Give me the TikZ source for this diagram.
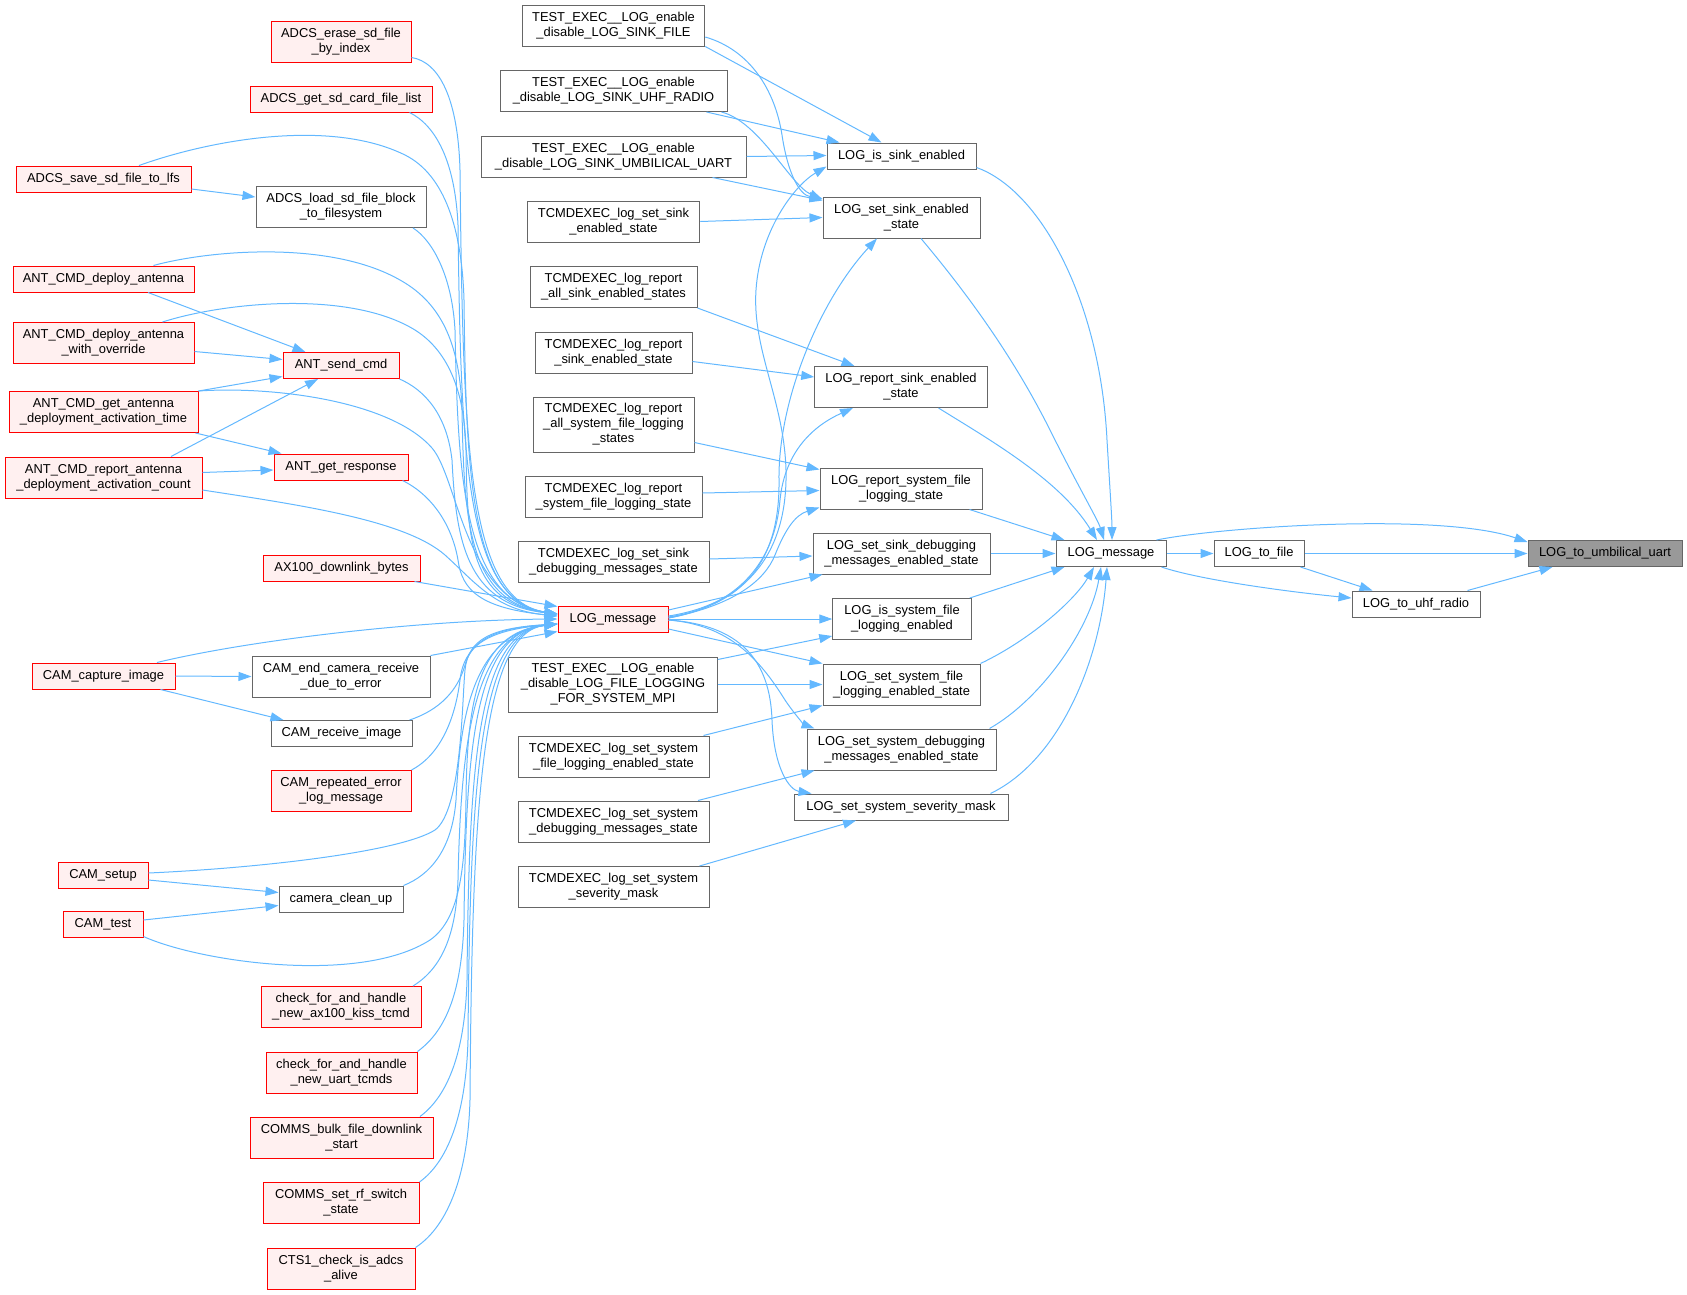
\documentclass[tikz,border=0pt]{standalone}
\usepackage{fontspec}
\setmainfont{Liberation Sans}
\usetikzlibrary{arrows.meta}
\definecolor{cedge}{HTML}{63B8FF}
\definecolor{cgray}{HTML}{666666}
\definecolor{cpink}{HTML}{FFF0F0}
\definecolor{ctarget}{HTML}{999999}
\newcommand\nfont{\fontsize{12.9}{15}\selectfont}
\newcommand\mknode[6]{\node[#1,minimum width=#2pt,minimum height=#3pt] (#4) at (#5) {#6};}
\tikzset{
  basebox/.style={draw, rectangle, inner sep=0pt, align=center, font=\nfont, line width=1pt},
  nb/.style={basebox, draw=cgray, fill=white},
  rb/.style={basebox, draw=red, fill=cpink},
  tb/.style={basebox, draw=cgray, fill=ctarget},
  edge/.style={draw=cedge, line width=1pt, -{Triangle[length=13pt,width=9pt]}},
}
\begin{document}
\begin{tikzpicture}[x=1pt,y=-1pt]
\useasboundingbox (0,0) rectangle (1687,1294);
% column 0
\mknode{rb}{175}{26}{adcsSave}{103.5,179}{ADCS\_save\_sd\_file\_to\_lfs}
\mknode{rb}{181}{26}{antDeploy}{103.5,279}{ANT\_CMD\_deploy\_antenna}
\mknode{rb}{181}{41}{antOverride}{103.5,343}{ANT\_CMD\_deploy\_antenna\\\_with\_override}
\mknode{rb}{189}{41}{antTime}{103.5,412}{ANT\_CMD\_get\_antenna\\\_deployment\_activation\_time}
\mknode{rb}{197}{41}{antReport}{103.5,477.5}{ANT\_CMD\_report\_antenna\\\_deployment\_activation\_count}
\mknode{rb}{143}{26}{camCapture}{103.5,676}{CAM\_capture\_image}
\mknode{rb}{90}{26}{camSetup}{103,875}{CAM\_setup}
\mknode{rb}{80}{26}{camTest}{103,924}{CAM\_test}
% column 1
\mknode{rb}{140}{41}{adcsErase}{341,41.5}{ADCS\_erase\_sd\_file\\\_by\_index}
\mknode{rb}{182}{26}{adcsGet}{341,99}{ADCS\_get\_sd\_card\_file\_list}
\mknode{nb}{170}{41}{adcsLoad}{341,207}{ADCS\_load\_sd\_file\_block\\\_to\_filesystem}
\mknode{rb}{116}{26}{antSend}{341,365.5}{ANT\_send\_cmd}
\mknode{rb}{134}{26}{antGetResp}{341,467}{ANT\_get\_response}
\mknode{rb}{157}{26}{ax100}{341.5,568}{AX100\_downlink\_bytes}
\mknode{nb}{178}{41}{camEnd}{341,676.5}{CAM\_end\_camera\_receive\\\_due\_to\_error}
\mknode{nb}{141}{26}{camRecv}{341.5,733.5}{CAM\_receive\_image}
\mknode{rb}{140}{41}{camRep}{341,791}{CAM\_repeated\_error\\\_log\_message}
\mknode{nb}{124}{26}{camClean}{341,899}{camera\_clean\_up}
\mknode{rb}{160}{41}{checkAx}{341,1007}{check\_for\_and\_handle\\\_new\_ax100\_kiss\_tcmd}
\mknode{rb}{151}{41}{checkUart}{341.5,1072.5}{check\_for\_and\_handle\\\_new\_uart\_tcmds}
\mknode{rb}{183}{41}{commsBulk}{341.5,1137.5}{COMMS\_bulk\_file\_downlink\\\_start}
\mknode{rb}{156}{41}{commsRf}{341,1203}{COMMS\_set\_rf\_switch\\\_state}
\mknode{rb}{148}{41}{cts1}{341,1268.5}{CTS1\_check\_is\_adcs\\\_alive}
% column 2
\mknode{nb}{182.5}{41}{tSinkFile}{613.5,25.5}{TEST\_EXEC\_\_LOG\_enable\\\_disable\_LOG\_SINK\_FILE}
\mknode{nb}{227}{41}{tUhf}{613.5,91}{TEST\_EXEC\_\_LOG\_enable\\\_disable\_LOG\_SINK\_UHF\_RADIO}
\mknode{nb}{265}{41}{tUmb}{613.5,156.5}{TEST\_EXEC\_\_LOG\_enable\\\_disable\_LOG\_SINK\_UMBILICAL\_UART}
\mknode{nb}{172.5}{41}{cSetSink}{613.5,221.5}{TCMDEXEC\_log\_set\_sink\\\_enabled\_state}
\mknode{nb}{167}{41}{cRepAllSink}{613.5,287}{TCMDEXEC\_log\_report\\\_all\_sink\_enabled\_states}
\mknode{nb}{157}{41}{cRepSink}{613.5,352.5}{TCMDEXEC\_log\_report\\\_sink\_enabled\_state}
\mknode{nb}{161}{55}{cRepAllSys}{613.5,424.5}{TCMDEXEC\_log\_report\\\_all\_system\_file\_logging\\\_states}
\mknode{nb}{177}{41}{cRepSys}{613.5,496.5}{TCMDEXEC\_log\_report\\\_system\_file\_logging\_state}
\mknode{nb}{191}{41}{cSetSinkDbg}{613.5,561.5}{TCMDEXEC\_log\_set\_sink\\\_debugging\_messages\_state}
\mknode{rb}{110}{26}{logMsgL}{613,619}{LOG\_message}
\mknode{nb}{208.5}{55}{tFileLog}{613,684.5}{TEST\_EXEC\_\_LOG\_enable\\\_disable\_LOG\_FILE\_LOGGING\\\_FOR\_SYSTEM\_MPI}
\mknode{nb}{191}{41}{cSetSysFile}{613.5,756.5}{TCMDEXEC\_log\_set\_system\\\_file\_logging\_enabled\_state}
\mknode{nb}{191}{41}{cSetSysDbg}{613.5,821.5}{TCMDEXEC\_log\_set\_system\\\_debugging\_messages\_state}
\mknode{nb}{191}{41}{cSetSev}{613.5,887}{TCMDEXEC\_log\_set\_system\\\_severity\_mask}
% column 3
\mknode{nb}{149}{26}{isSink}{901.5,156}{LOG\_is\_sink\_enabled}
\mknode{nb}{157}{41}{setSink}{901.5,217.5}{LOG\_set\_sink\_enabled\\\_state}
\mknode{nb}{172.5}{41}{repSink}{901,387}{LOG\_report\_sink\_enabled\\\_state}
\mknode{nb}{162}{41}{repSys}{901,488.5}{LOG\_report\_system\_file\\\_logging\_state}
\mknode{nb}{177}{41}{setSinkDbg}{901.5,553.5}{LOG\_set\_sink\_debugging\\\_messages\_enabled\_state}
\mknode{nb}{138.5}{41}{isSys}{902,619}{LOG\_is\_system\_file\\\_logging\_enabled}
\mknode{nb}{157}{41}{setSysFile}{901.5,684.5}{LOG\_set\_system\_file\\\_logging\_enabled\_state}
\mknode{nb}{189}{41}{setSysDbg}{901.5,749.5}{LOG\_set\_system\_debugging\\\_messages\_enabled\_state}
\mknode{nb}{214}{26}{sevMask}{901,807}{LOG\_set\_system\_severity\_mask}
% right part
\mknode{nb}{110}{26}{logMsgR}{1111,553.5}{LOG\_message}
\mknode{nb}{90}{26}{toFile}{1259,553.5}{LOG\_to\_file}
\mknode{nb}{128}{26}{toUhf}{1416,604}{LOG\_to\_uhf\_radio}
\mknode{tb}{154}{26}{target}{1605,553.5}{LOG\_to\_umbilical\_uart}

% ---- left edges into logMsgL
\draw[edge] ([yshift=5pt]adcsErase.south east) .. controls (440,62) and (458,100) .. (460,170) .. controls (463,450) and (468,600) .. ([yshift=5pt]logMsgL.west);
\draw[edge] ([xshift=-23pt]adcsGet.south east) .. controls (435,125) and (455,160) .. (458,225) .. controls (461,460) and (466,600) .. ([yshift=5pt]logMsgL.west);
\draw[edge] ([xshift=35.5pt]adcsSave.north) .. controls (210,140) and (330,118) .. (405,155) .. controls (445,175) and (462,230) .. (464,300) .. controls (466,470) and (470,602) .. ([yshift=5pt]logMsgL.west);
\draw[edge] ([xshift=-13.5pt]adcsLoad.south east) .. controls (432,240) and (452,275) .. (455,330) .. controls (458,480) and (464,600) .. ([yshift=5pt]logMsgL.west);
\draw[edge] ([xshift=50pt]antDeploy.north) .. controls (210,250) and (330,240) .. (400,280) .. controls (445,305) and (460,350) .. (462,410) .. controls (464,520) and (468,602) .. ([yshift=5pt]logMsgL.west);
\draw[edge] ([xshift=59pt]antOverride.north) .. controls (225,302) and (350,290) .. (415,330) .. controls (450,352) and (465,395) .. (466,450) .. controls (467,540) and (470,603) .. ([yshift=5pt]logMsgL.west);
\draw[edge] (antSend.south east) .. controls (425,390) and (447,415) .. (452,460) .. controls (456,540) and (466,604) .. ([yshift=5pt]logMsgL.west);
\draw[edge] (antTime.north east) .. controls (270,386) and (390,400) .. (432,448) .. controls (458,478) and (465,600) .. ([yshift=5pt]logMsgL.west);
\draw[edge] ([xshift=-6pt]antGetResp.south east) .. controls (432,495) and (452,525) .. (458,560) .. controls (462,590) and (480,608) .. ([yshift=3pt]logMsgL.west);
\draw[edge] ([yshift=-12.5pt]antReport.east) .. controls (300,505) and (405,520) .. (445,555) .. controls (475,582) and (495,610) .. ([yshift=3pt]logMsgL.west);
\draw[edge] ([xshift=-6pt]ax100.south east) -- ([yshift=-1pt]logMsgL.north west);
\draw[edge] ([xshift=53.5pt]camCapture.north) .. controls (250,640) and (420,620) .. (logMsgL.west);
\draw[edge] (camEnd.north east) -- ([yshift=1pt]logMsgL.south west);
\draw[edge] ([xshift=-3pt]camRecv.north east) .. controls (440,710) and (458,690) .. (465,665) .. controls (472,640) and (495,628) .. ([yshift=-5pt]logMsgL.west);
\draw[edge] (camRep.north east) .. controls (440,755) and (455,720) .. (460,680) .. controls (464,645) and (488,630) .. ([yshift=-5pt]logMsgL.west);
\draw[edge] ([yshift=2pt]camSetup.east) .. controls (260,868) and (400,852) .. (435,830) .. controls (462,810) and (462,700) .. (465,670) .. controls (468,640) and (490,628) .. ([yshift=-5pt]logMsgL.west);
\draw[edge] (camClean.north east) .. controls (430,875) and (452,850) .. (456,800) .. controls (460,720) and (472,634) .. ([yshift=-5pt]logMsgL.west);
\draw[edge] ([yshift=1pt]camTest.south east) .. controls (200,962) and (360,985) .. (430,940) .. controls (462,918) and (465,860) .. (466,800) .. controls (467,700) and (478,632) .. ([yshift=-5pt]logMsgL.west);
\draw[edge] ([xshift=-8.5pt]checkAx.north east) .. controls (442,968) and (456,935) .. (458,880) .. controls (461,740) and (474,632) .. ([yshift=-5pt]logMsgL.west);
\draw[edge] (checkUart.north east) .. controls (447,1030) and (462,990) .. (464,920) .. controls (466,740) and (476,632) .. ([yshift=-5pt]logMsgL.west);
\draw[edge] ([xshift=-13.5pt]commsBulk.north east) .. controls (449,1095) and (465,1050) .. (467,980) .. controls (469,760) and (478,632) .. ([yshift=-5pt]logMsgL.west);
\draw[edge] (commsRf.north east) .. controls (450,1160) and (466,1110) .. (468,1040) .. controls (470,780) and (480,632) .. ([yshift=-5pt]logMsgL.west);
\draw[edge] (cts1.north east) .. controls (450,1225) and (468,1170) .. (470,1100) .. controls (472,800) and (482,632) .. ([yshift=-5pt]logMsgL.west);

% ---- other left edges
\draw[edge] ([yshift=-10pt]adcsSave.east) -- ([yshift=10pt]adcsLoad.west);
\draw[edge] ([xshift=44.5pt]antDeploy.south) -- ([xshift=23pt]antSend.north west);
\draw[edge] ([yshift=-8.5pt]antOverride.east) -- ([yshift=6pt]antSend.west);
\draw[edge] (antTime.north east) -- ([yshift=-11pt]antSend.west);
\draw[edge] ([xshift=67.5pt]antReport.north) -- ([xshift=-23pt]antSend.south);
\draw[edge] ([xshift=-3pt]antTime.south east) -- ([xshift=8pt]antGetResp.north west);
\draw[edge] ([yshift=5pt]antReport.east) -- ([yshift=-3pt]antGetResp.west);
\draw[edge] (camCapture.east) -- (camEnd.west);
\draw[edge] ([xshift=57pt]camCapture.south) -- ([xshift=13pt]camRecv.north west);
\draw[edge] ([yshift=-5pt]camSetup.east) -- ([yshift=6.5pt]camClean.west);
\draw[edge] ([yshift=4pt]camTest.east) -- ([yshift=-6.5pt]camClean.west);

% ---- column 2 -> column 3
\draw[edge] (tSinkFile.south east) -- ([xshift=-20pt]isSink.north);
\draw[edge] ([yshift=-11.5pt]tSinkFile.east) .. controls (750,50) and (775,90) .. (782,135) .. controls (788,175) and (800,195) .. ([yshift=-2pt]setSink.north west);
\draw[edge] ([xshift=-21pt]tUhf.south east) -- ([xshift=13pt]isSink.north west);
\draw[edge] ([xshift=-6pt]tUhf.south east) .. controls (760,122) and (790,185) .. ([yshift=-3pt]setSink.north west);
\draw[edge] (tUmb.east) -- ([yshift=0.5pt]isSink.west);
\draw[edge] ([xshift=-34pt]tUmb.south east) -- ([yshift=-4pt]setSink.north west);
\draw[edge] (cSetSink.east) -- (setSink.west);
\draw[edge] (cRepAllSink.south east) -- ([xshift=-46.5pt]repSink.north);
\draw[edge] ([yshift=-9pt]cRepSink.east) -- ([yshift=10pt]repSink.west);
\draw[edge] ([yshift=-18pt]cRepAllSys.east) -- ([yshift=-2pt]repSys.north west);
\draw[edge] ([yshift=3.5pt]cRepSys.east) -- ([yshift=-2pt]repSys.west);
\draw[edge] ([yshift=2.5pt]cSetSinkDbg.east) -- ([yshift=-2.5pt]setSinkDbg.west);
\draw[edge] ([yshift=-3pt]tFileLog.north east) -- ([yshift=4pt]isSys.south west);
\draw[edge] (tFileLog.east) -- (setSysFile.west);
\draw[edge] ([xshift=-6pt]cSetSysFile.north east) -- (setSysFile.south west);
\draw[edge] ([xshift=-11.5pt]cSetSysDbg.north east) -- ([xshift=8pt]setSysDbg.south west);
\draw[edge] ([xshift=-10pt]cSetSev.north east) -- ([xshift=-45pt]sevMask.south);

% ---- logMsgL -> column 3
\draw[edge] ([yshift=3pt]logMsgL.east) .. controls (740,605) and (788,560) .. (786,470) .. controls (784,400) and (752,350) .. (756,290) .. controls (760,230) and (795,185) .. ([yshift=3pt]isSink.south west);
\draw[edge] ([yshift=2pt]logMsgL.east) .. controls (745,605) and (780,560) .. (779,480) .. controls (778,400) and (820,300) .. ([xshift=-24.5pt]setSink.south);
\draw[edge] ([yshift=1pt]logMsgL.east) .. controls (740,605) and (775,560) .. (780,500) .. controls (785,450) and (815,425) .. ([xshift=-48pt]repSink.south);
\draw[edge] ([yshift=1pt]logMsgL.east) .. controls (735,605) and (765,580) .. (775,555) .. controls (785,530) and (795,515) .. ([yshift=2pt]repSys.south west);
\draw[edge] ([yshift=9pt]logMsgL.east) -- ([xshift=10pt]setSinkDbg.south west);
\draw[edge] (logMsgL.east) -- (isSys.west);
\draw[edge] ([yshift=-10pt]logMsgL.east) -- (setSysFile.north west);
\draw[edge] ([yshift=-1pt]logMsgL.east) .. controls (730,625) and (760,660) .. (785,700) .. controls (795,715) and (805,725) .. ([xshift=8pt]setSysDbg.north west);
\draw[edge] ([yshift=-1pt]logMsgL.east) .. controls (740,625) and (770,660) .. (772,720) .. controls (774,770) and (790,790) .. ([xshift=18pt]sevMask.north west);

% ---- column 3 -> logMsgR
\draw[edge] ([yshift=2pt]isSink.south east) .. controls (1040,190) and (1100,300) .. (1107,440) .. controls (1110,490) and (1112,520) .. ([xshift=1pt]logMsgR.north);
\draw[edge] ([xshift=19.5pt]setSink.south) .. controls (960,285) and (1010,350) .. (1050,430) .. controls (1080,490) and (1098,520) .. ([xshift=-7pt]logMsgR.north);
\draw[edge] ([xshift=37.5pt]repSink.south) .. controls (990,440) and (1060,480) .. ([xshift=-14pt]logMsgR.north);
\draw[edge] ([xshift=-13pt]repSys.south east) -- ([xshift=9pt]logMsgR.north west);
\draw[edge] (setSinkDbg.east) -- (logMsgR.west);
\draw[edge] ([xshift=-2pt]isSys.north east) -- ([xshift=9pt]logMsgR.south west);
\draw[edge] (setSysFile.north east) .. controls (1030,640) and (1075,600) .. ([xshift=-17pt]logMsgR.south);
\draw[edge] ([xshift=-7pt]setSysDbg.north east) .. controls (1040,700) and (1090,630) .. ([xshift=-10pt]logMsgR.south);
\draw[edge] ([xshift=-18pt]sevMask.north east) .. controls (1060,760) and (1100,660) .. ([xshift=-4pt]logMsgR.south);

% ---- right part
\draw[edge] (logMsgR.east) -- (toFile.west);
\draw[edge] ([xshift=-10pt]logMsgR.north east) .. controls (1220,527) and (1440,512) .. ([yshift=-2pt]target.north west);
\draw[edge] (toFile.east) -- (target.west);
\draw[edge] ([xshift=-4pt]toFile.south east) -- ([xshift=-43.5pt]toUhf.north);
\draw[edge] ([xshift=-5pt]logMsgR.south east) .. controls (1200,580) and (1290,592) .. ([yshift=6pt]toUhf.west);
\draw[edge] ([xshift=-13pt]toUhf.north east) -- ([xshift=25pt]target.south west);
\end{tikzpicture}
\end{document}
